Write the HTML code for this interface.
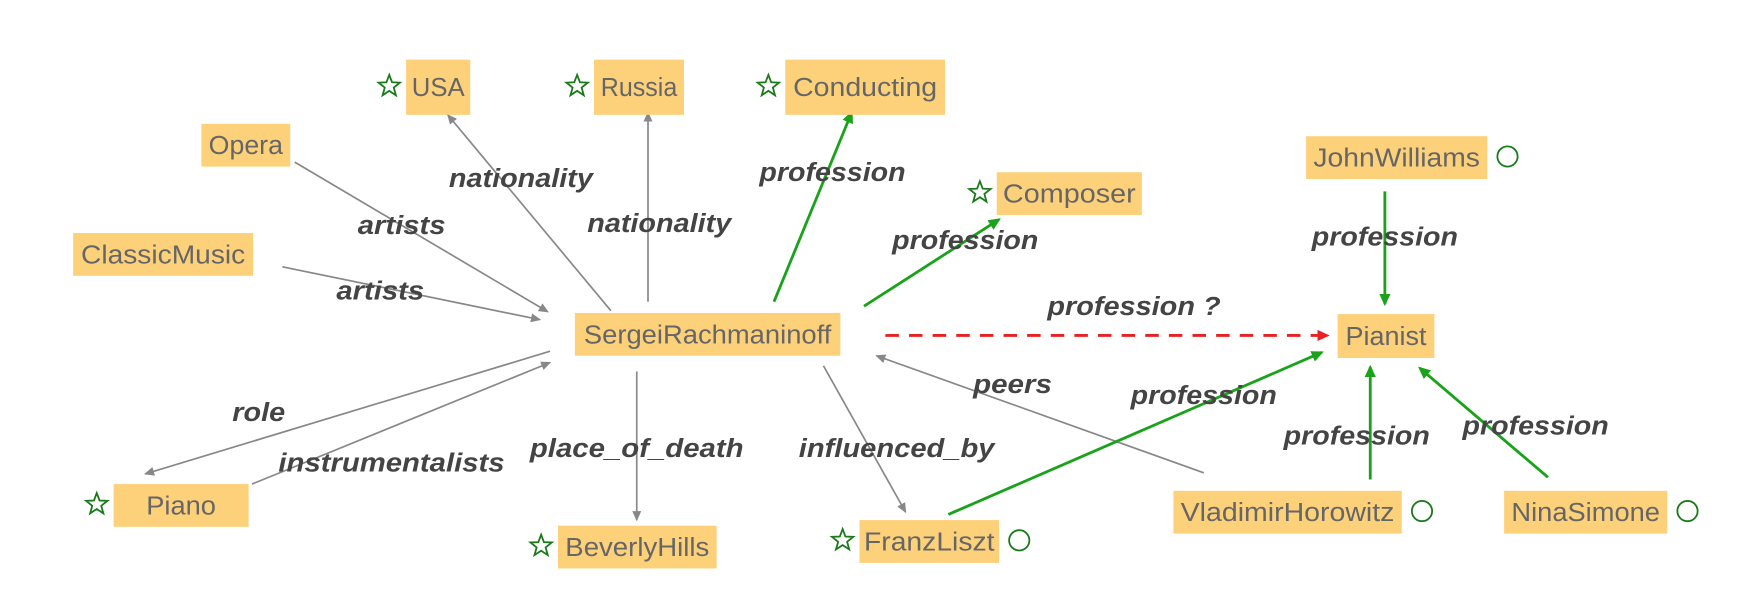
<!DOCTYPE html>
<html><head><meta charset="utf-8"><style>
html,body{margin:0;padding:0;background:#fff;}
svg{display:block;}
.node-text{font-family:"Liberation Sans",sans-serif;font-size:23px;fill:#666;}
.edge-label{font-family:"Liberation Sans",sans-serif;font-size:23px;font-weight:bold;font-style:italic;fill:#444;}
</style></head><body>
<svg id="g" width="1764" height="591" viewBox="0 0 1568 525" preserveAspectRatio="none">
<defs>
<marker id="ag" markerWidth="10" markerHeight="10" refX="8" refY="4" orient="auto" markerUnits="userSpaceOnUse"><path d="M0,0 L9,4 L0,8 Z" fill="#888"/></marker>
<marker id="agr" markerWidth="12" markerHeight="12" refX="9" refY="5" orient="auto" markerUnits="userSpaceOnUse"><path d="M0,0 L11,5 L0,10 Z" fill="#1aa31a"/></marker>
<marker id="ar" markerWidth="12" markerHeight="12" refX="9" refY="5" orient="auto" markerUnits="userSpaceOnUse"><path d="M0,0 L11,5 L0,10 Z" fill="#e82222"/></marker>
</defs>
<g id="edges"></g>
<g id="nodes"></g>
</svg>
<script>
const nodeNames=["USA","Russia","Conducting","Opera","ClassicMusic","SergeiRachmaninoff","Composer","JohnWilliams","Pianist","Piano","BeverlyHills","FranzLiszt","VladimirHorowitz","NinaSimone"];
const nodeBoxes=[[361,53,57,49],[528,53,80,49],[698,53,142,49],[179,110,79,38],[65,207,160,38],[511,278,236,38],[886,153,129,38],[1161,121,161,38],[1189,279,86,39],[101,430,120,38],[496,467,141,38],[764,462,124,38],[1043,436,203,38],[1337,436,145,38]];
const nodeTextW=[47,68,128,66,146,220,118,148,72,62,128,116,190,132];
const nodeMarks=["star","star","star","","","","star","circle","","star","star","both","circle","circle"];
const edgeLines=[[262,144,487,277],[251,237,480,284],[543,276,398,102],[576,268,576,100],[688,268,757,100],[768,272,888,195],[787,298,1180,298],[1231,170,1231,270],[489,312,129,421],[224,430,489,322],[566,330,566,462],[732,325,805,455],[1070,420,779,316],[843,457,1175,313],[1218,426,1218,326],[1376,424,1262,327]];
const edgeLabels=["artists","artists","nationality","nationality","profession","profession","profession ?","profession","role","instrumentalists","place_of_death","influenced_by","peers","profession","profession","profession"];
const edgeKinds=["g","g","g","g","p","p","q","p","g","g","g","g","g","p","p","p"];
const labelPos=[[357,200],[338,258],[463,158],[586,198],[740,153],[858,213],[1008,272],[1231,210],[230,366],[348,411],[566,398],[797,398],[900,341],[1070,351],[1206,387],[1365,378]];
const labelW=[78,78,128,128,130,130,154,130,47,201,190,174,70,130,130,130];
const NS="http://www.w3.org/2000/svg";
const E=document.getElementById('edges'),N=document.getElementById('nodes');
edgeLines.forEach((l,i)=>{
 const ln=document.createElementNS(NS,'line');
 ln.setAttribute('x1',l[0]);ln.setAttribute('y1',l[1]);ln.setAttribute('x2',l[2]);ln.setAttribute('y2',l[3]);
 const k=edgeKinds[i];
 ln.setAttribute('stroke',k==='g'?'#888':k==='p'?'#1aa31a':'#e82222');
 ln.setAttribute('stroke-width',k==='g'?1.5:2.5);
 if(k==='q')ln.setAttribute('stroke-dasharray','12,9');
 ln.setAttribute('marker-end',k==='g'?'url(#ag)':k==='p'?'url(#agr)':'url(#ar)');
 
 
 E.appendChild(ln);
 const t=document.createElementNS(NS,'text');
 t.setAttribute('x',labelPos[i][0]);t.setAttribute('y',labelPos[i][1]+8);
 t.setAttribute('text-anchor','middle');t.setAttribute('class','edge-label');
 t.setAttribute('textLength',labelW[i]);t.setAttribute('lengthAdjust','spacingAndGlyphs');
 t.textContent=edgeLabels[i];
 
 
 E.appendChild(t);
});
function star(cx,cy){
 const p=[];for(let j=0;j<10;j++){const r=j%2?4.2:10,a=-Math.PI/2+j*Math.PI/5;p.push((cx+r*Math.cos(a)).toFixed(1)+','+(cy+r*Math.sin(a)).toFixed(1));}
 const s=document.createElementNS(NS,'polygon');s.setAttribute('points',p.join(' '));
 s.setAttribute('fill','none');s.setAttribute('stroke','#1a7a1a');s.setAttribute('stroke-width','1.6');
 
 
 N.appendChild(s);
}
function circ(cx,cy){
 const c=document.createElementNS(NS,'circle');c.setAttribute('cx',cx);c.setAttribute('cy',cy);c.setAttribute('r',9);
 c.setAttribute('fill','none');c.setAttribute('stroke','#1a7a1a');c.setAttribute('stroke-width','1.6');
 
 
 N.appendChild(c);
}
nodeNames.forEach((n,i)=>{
 const b=nodeBoxes[i];
 const r=document.createElementNS(NS,'rect');
 r.setAttribute('x',b[0]);r.setAttribute('y',b[1]);r.setAttribute('width',b[2]);r.setAttribute('height',b[3]);
 r.setAttribute('fill','#fdd07a');
 
 
 N.appendChild(r);
 const t=document.createElementNS(NS,'text');
 t.setAttribute('x',b[0]+b[2]/2);t.setAttribute('y',b[1]+b[3]/2+8);
 t.setAttribute('text-anchor','middle');t.setAttribute('class','node-text');
 t.setAttribute('textLength',nodeTextW[i]);t.setAttribute('lengthAdjust','spacingAndGlyphs');
 t.textContent=n;
 
 
 N.appendChild(t);
 const m=nodeMarks[i],cy=b[1]+b[3]/2-1;
 if(m==='star'||m==='both')star(b[0]-15,cy);
 if(m==='circle'||m==='both')circ(b[0]+b[2]+18,cy);
});
</script>
</body></html>
